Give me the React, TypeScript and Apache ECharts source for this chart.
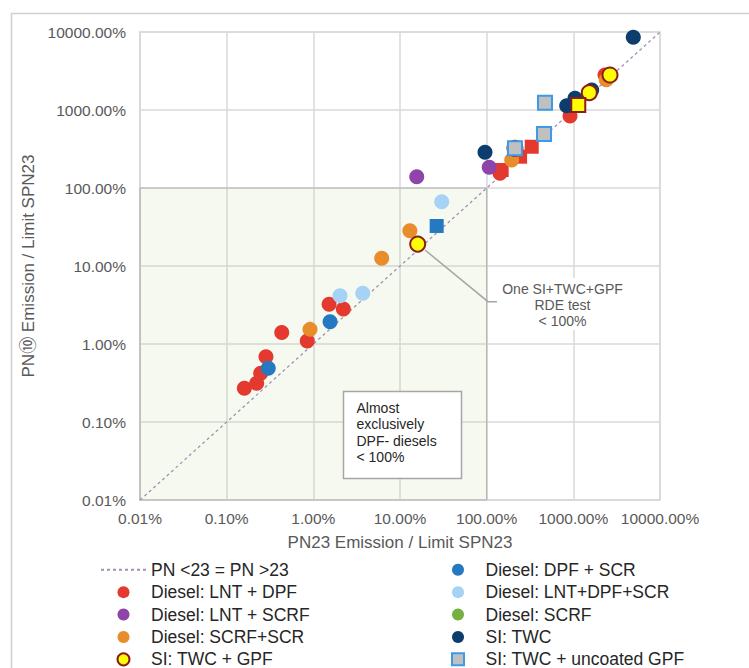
import React, { useEffect, useRef } from "react";
import * as echarts from "echarts";

// ---- data (values in % of limit) ----
const diagLine = [[0.01, 0.01], [10000, 10000]];
const lntDpfCircles = [[0.16, 0.27], [0.222, 0.313], [0.247, 0.421], [0.284, 0.687], [0.432, 1.4], [0.851, 1.09], [1.52, 3.23], [2.22, 2.81], [142.5, 154], [916, 838], [2319, 2810]];
const lntDpfSquares = [[149, 170], [243, 252], [331, 338]];
const lntScrf = [[15.6, 139.6], [107, 184]];
const scrfScr = [[0.915, 1.54], [6.15, 12.6], [13.0, 28.4], [194.5, 228], [2400, 2450]];
const dpfScrCircles = [[0.302, 0.488], [1.56, 1.93]];
const dpfScrSquares = [[26.5, 32.6]];
const lntDpfScr = [[2.03, 4.16], [3.72, 4.47], [30.3, 66.7]];
const scrfOnly: number[][] = [];
const siTwc = [[95.7, 287], [838, 1135], [1045, 1413], [1629, 1803], [4920, 8550]];
const siTwcGpfCircles = [[16.0, 19.1], [212, 323], [1528, 1667], [2648, 2810]];
const siTwcGpfSquares = [[1140, 1159]];
const siUncoatedGpf = [[212, 323], [459, 492], [471, 1241]];

const axisMin = 0.01;
const axisMax = 10000;

const legendLeft = ["PN <23 = PN >23", "Diesel: LNT + DPF", "Diesel: LNT + SCRF", "Diesel: SCRF+SCR", "SI: TWC + GPF"];
const legendRight = ["Diesel: DPF + SCR", "Diesel: LNT+DPF+SCR", "Diesel: SCRF", "SI: TWC", "SI: TWC + uncoated GPF"];

const FONT = '"Liberation Sans", Arial, "Noto Sans CJK SC", sans-serif';
const SQUARE_ICON = "path://M0 0H10V10H0Z";

const mixed = (circles: number[][], squares: number[][]) => [
  ...circles.map((v) => ({ value: v })),
  ...squares.map((v) => ({ value: v, symbol: "rect", symbolSize: 14 })),
];

export default function App() {
  const ref = useRef<HTMLDivElement>(null);
  useEffect(() => {
    if (!ref.current) return;
    const chart = echarts.init(ref.current, undefined, { renderer: "svg" });
    const fmt = (v: number) => v.toFixed(2) + "%";
    const axisCommon = {
      type: "log" as const,
      logBase: 10,
      min: axisMin,
      max: axisMax,
      axisLine: { show: true, lineStyle: { color: "#d9d9d9", width: 1.5 } },
      axisTick: { show: false },
      splitLine: { show: true, lineStyle: { color: "#d9d9d9", width: 1.5 } },
      nameTextStyle: { fontSize: 17, color: "#595959", fontFamily: FONT },
    };
    const sc = (name: string, data: any[], color: string, extra: any = {}) => ({
      type: "scatter",
      name,
      data,
      symbol: extra.symbol || "circle",
      symbolSize: extra.symbolSize || 15,
      itemStyle: { color, opacity: 1, ...(extra.itemStyle || {}) },
      z: 3,
    });
    const legendCommon = {
      top: 561,
      height: 200,
      padding: 0,
      orient: "vertical",
      itemWidth: 45,
      itemHeight: 12,
      itemGap: 4.9,
      textStyle: { fontSize: 17.5, lineHeight: 17, color: "#262626", fontFamily: FONT },
    };
    const legendItem = (name: string) => {
      if (name === "PN <23 = PN >23") return { name, itemStyle: { opacity: 0 } };
      if (name === "SI: TWC + uncoated GPF") return { name, icon: SQUARE_ICON };
      return { name };
    };
    chart.setOption({
      animation: false,
      textStyle: { fontFamily: FONT },
      grid: { left: 140, top: 32, right: 89, bottom: 168, show: true, borderColor: "#d9d9d9", borderWidth: 1.5 },
      xAxis: {
        ...axisCommon,
        name: "PN23 Emission / Limit SPN23",
        nameLocation: "middle",
        nameGap: 34,
        axisLabel: { formatter: fmt, fontSize: 15.5, color: "#595959", margin: 11, fontFamily: FONT },
      },
      yAxis: {
        ...axisCommon,
        name: "PN\u2469 Emission / Limit SPN23",
        nameLocation: "middle",
        nameGap: 97,
        axisLabel: { formatter: fmt, fontSize: 15.5, color: "#595959", margin: 14, fontFamily: FONT },
      },
      legend: [
        { ...legendCommon, left: 100, data: legendLeft.map(legendItem) },
        { ...legendCommon, left: 451, data: legendRight.map(legendItem) },
      ],
      series: [
        {
          type: "line",
          name: "PN <23 = PN >23",
          data: diagLine,
          symbol: "none",
          lineStyle: { color: "#a68fb3", width: 1.3, type: [3, 3] },
          itemStyle: { color: "#a68fb3" },
          z: 2,
          markArea: {
            silent: true,
            itemStyle: { color: "rgba(190,220,160,0.16)", borderColor: "#b5b5b5", borderWidth: 1.2 },
            data: [[{ coord: [axisMin, axisMin] }, { coord: [100, 100] }]],
          },
        },
        sc("Diesel: LNT + DPF", mixed(lntDpfCircles, lntDpfSquares), "#e3392e"),
        sc("Diesel: LNT + SCRF", lntScrf.map((v) => ({ value: v })), "#8e44a8"),
        sc("Diesel: SCRF+SCR", scrfScr.map((v) => ({ value: v })), "#e88c2c"),
        sc("Diesel: DPF + SCR", mixed(dpfScrCircles, dpfScrSquares), "#2479c0"),
        sc("Diesel: LNT+DPF+SCR", lntDpfScr.map((v) => ({ value: v })), "#a6d2f5"),
        sc("Diesel: SCRF", scrfOnly, "#76b041"),
        sc("SI: TWC", siTwc.map((v) => ({ value: v })), "#0d3d6d"),
        sc("SI: TWC + GPF", mixed(siTwcGpfCircles, siTwcGpfSquares), "#ffff00", {
          itemStyle: { borderColor: "#8b1c1c", borderWidth: 2 },
        }),
        sc("SI: TWC + uncoated GPF", siUncoatedGpf.map((v) => ({ value: v })), "#c0c0c0", {
          symbol: "rect",
          symbolSize: 14,
          itemStyle: { borderColor: "#3d9ae8", borderWidth: 2 },
        }),
      ],
      graphic: [
        {
          type: "rect", silent: true, z: 0,
          shape: { x: 11.5, y: 13.5, width: 800, height: 700 },
          style: { fill: "none", stroke: "#d0d0d0", lineWidth: 1.5 },
        },
        {
          type: "polyline", silent: true, z: 5,
          shape: { points: [[425, 250], [488, 301.7], [497, 301.7]] },
          style: { stroke: "#a6a6a6", lineWidth: 1.5, fill: "none" },
        },
        {
          type: "rect", silent: true, z: 10,
          shape: { x: 498, y: 278, width: 130, height: 52 },
          style: { fill: "#ffffff" },
        },
        {
          type: "text", silent: true, z: 11,
          x: 562.5, y: 280.5,
          style: {
            text: "One SI+TWC+GPF\nRDE test\n< 100%",
            fontSize: 14, lineHeight: 16.2, fill: "#595959", fontFamily: FONT,
            align: "center", verticalAlign: "top",
          },
        },
        {
          type: "rect", silent: true, z: 10,
          shape: { x: 343.5, y: 391.5, width: 118, height: 87 },
          style: { fill: "#ffffff", stroke: "#a6a6a6", lineWidth: 1.5 },
        },
        {
          type: "text", silent: true, z: 11,
          x: 356.5, y: 400,
          style: {
            text: "Almost\nexclusively\nDPF- diesels\n< 100%",
            fontSize: 14, lineHeight: 16.3, fill: "#262626", fontFamily: FONT,
            align: "left", verticalAlign: "top",
          },
        },
      ],
    });
    return () => chart.dispose();
  }, []);
  return <div ref={ref} style={{ position: "fixed", left: 0, top: 0, width: 749, height: 668, background: "#fff" }} />;
}
